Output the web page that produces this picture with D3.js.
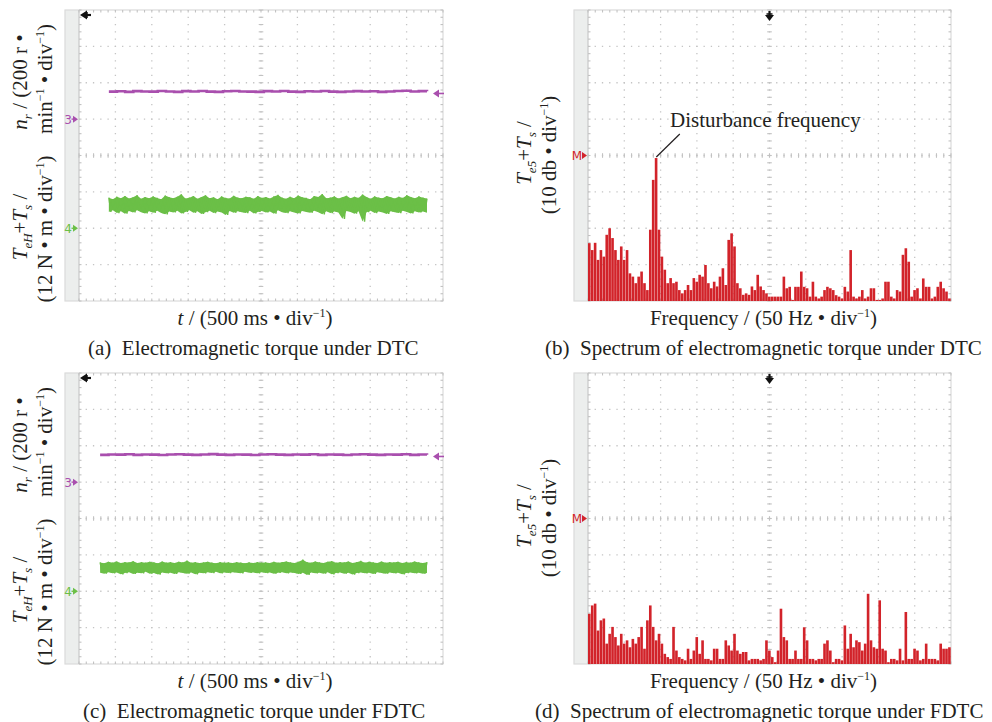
<!DOCTYPE html>
<html>
<head>
<meta charset="utf-8">
<script src="https://cdn.jsdelivr.net/npm/d3@7"></script>
<style>
  html, body { margin: 0; padding: 0; background: #fff; }
  svg { display: block; }
  text { font-family: "Liberation Serif", "Times New Roman", serif; }
</style>
</head>
<body>
<svg id="chart" width="992" height="722"></svg>
<script>
// ---------------- data ----------------
// Rotor speed n_r (r/min), channel 3, sampled evenly between the trace start and end times
const speedDTC  = [151,153,150,154,152,151,155,152,150,154,152,155,151,150,153,155,152,151,150,154,
                   152,155,151,150,153,152,155,151,150,152,154,152,153,150,152,155,156,152,154,153];
const speedFDTC = [150,152,151,153,150,152,151,149,152,153,151,150,152,154,151,150,152,151,149,152,
                   153,151,150,152,151,153,150,152,151,149,152,153,151,150,152,151,153,150,152,151];
const speedLevel = 141;            // trigger level marker on channel 3 (r/min)

// Electromagnetic torque T_eH+T_s (N·m), channel 4: upper / lower envelope per sample column
const torqueHiDTC = [10.1,9.6,10.4,9.9,10.6,9.8,10.2,10.9,9.7,10.3,9.9,10.5,10.0,9.6,10.8,10.2,9.9,10.4,11.2,9.8,
                     10.1,10.6,9.7,10.3,10.9,9.9,10.2,9.6,10.5,10.0,9.8,10.7,10.1,9.9,10.4,10.2,9.7,10.6,10.0,10.3,
                     9.8,10.5,11.0,10.1,9.7,10.4,9.9,10.8,10.2,10.0,9.6,10.6,10.3,11.3,9.9,10.1,10.5,9.8,10.2,10.7,
                     9.9,10.4,10.0,11.1,10.3,9.7,10.5,10.1,9.9,10.6,10.2,9.8,10.4,10.0,10.9,10.3,9.9,10.5,10.1,9.8];
const torqueLoDTC = [5.4,5.9,5.0,5.6,4.8,5.7,5.2,5.9,5.3,4.9,5.6,5.1,5.8,5.0,4.6,5.5,5.2,5.8,4.9,5.4,
                     5.9,5.1,5.6,4.7,5.3,5.8,5.0,5.5,5.2,4.4,5.7,5.1,5.6,5.3,5.0,5.8,4.9,5.4,5.7,5.2,
                     5.5,4.8,5.9,5.3,5.0,5.6,5.2,4.9,5.7,5.4,5.1,5.8,5.3,4.6,5.6,5.0,5.5,5.2,3.1,5.7,
                     5.4,4.8,5.6,2.2,5.3,5.8,5.0,5.5,5.2,4.7,5.6,5.3,5.0,5.8,5.4,4.9,5.6,5.2,5.5,5.1];
const torqueHiFDTC = [9.5,9.2,9.7,9.4,9.8,9.3,9.6,9.5,9.9,9.3,9.6,9.4,9.7,9.5,9.2,9.8,9.4,9.6,9.3,9.7,
                      9.5,10.1,9.4,9.6,9.3,9.5,9.7,9.4,9.2,9.6,9.4,9.5,9.3,9.6,9.4,9.2,9.5,9.3,9.6,9.4,
                      9.5,9.3,9.7,9.4,9.6,9.8,9.5,9.3,9.7,10.4,9.6,9.4,9.8,9.5,9.3,9.7,9.9,9.4,9.6,9.5,
                      9.8,9.3,9.6,10.0,9.4,9.7,9.5,9.3,9.8,9.4,9.6,9.5,9.7,9.3,9.6,9.4,9.8,9.5,9.3,9.6];
const torqueLoFDTC = [6.1,5.8,6.3,5.9,6.2,5.6,6.0,6.3,5.7,6.1,5.9,6.4,5.8,6.0,5.5,6.2,5.9,6.1,5.7,6.3,
                      6.0,5.8,6.2,5.6,6.1,5.9,6.3,6.0,6.4,5.9,6.2,6.0,6.3,6.1,5.9,6.4,6.1,6.2,5.9,6.3,
                      6.0,6.2,5.8,6.1,6.3,5.9,6.2,6.0,5.7,6.1,5.4,6.2,5.9,6.1,5.8,6.3,5.6,6.0,6.2,5.8,
                      6.1,5.5,6.0,6.2,5.9,6.1,5.7,6.3,6.0,5.8,6.2,5.9,6.1,5.6,6.0,6.2,5.9,6.1,5.8,6.0];

// Trace time spans (s)
const traceSpanDTC  = [0.41, 4.78];
const traceSpanFDTC = [0.29, 4.78];

// Torque spectra (dB), one value per 4 Hz bin starting at 0 Hz
const spectrumBinHz = 4;
const spectrumDTC = [
  -64.1,-66,-64,-68.7,-66,-67.8,-61.8,-60,-62.7,-66,-68.7,-65,-68.7,-66,-72.4,-73.3,-75.1,-73.3,-71.9,-75.1,
  -77,-60.4,-46.7,-40.7,-60.4,-67.8,-71.4,-75.1,-73.7,-75.1,-74.7,-77,-77.9,-77,-75.6,-77,-73.7,-74.7,-72.8,-73.3,
  -70.1,-75.1,-76.5,-74.7,-76,-73.3,-71,-75.6,-63.2,-61.4,-65,-75.1,-76.5,-78.3,-77.9,-78.3,-76,-77,-72.8,-76,
  -77,-77.9,-78.8,-78.8,-78.8,-78.8,-78.8,-73.3,-76.5,-76.1,-79.7,-76.1,-76.1,-71.9,-76.1,-76.5,-78.8,-74.7,-78.8,-79.3,
  -78.8,-77,-76.1,-76.5,-77,-78.4,-78.8,-79.3,-76.1,-77.4,-66,-78.8,-79.3,-78.8,-77,-79.3,-78.8,-76.5,-76.5,-79.7,
  -79.7,-79.3,-74.7,-74.7,-78.8,-79.3,-77,-77.4,-67.3,-65.5,-69.2,-78.8,-77,-76.5,-79.3,-73.8,-76.1,-76.1,-79.3,-78.8,
  -76.1,-74.7,-76.5,-77.4,-79.3];
const spectrumFDTC = [
  -66.2,-63.9,-63.4,-70.8,-68,-67.5,-74.4,-71.7,-69.8,-72.6,-74.9,-71.7,-74.4,-73.5,-75.4,-73.1,-74.4,-72.6,-69.8,-75.8,
  -68,-63.9,-69.8,-73.5,-71.7,-74.4,-77.2,-78.1,-78.6,-69.8,-76.3,-78.1,-78.6,-79,-75.8,-78.6,-76.3,-72.6,-77.2,-73.5,
  -78.6,-78.6,-79,-75.8,-75.8,-78.6,-78.6,-73.5,-74.9,-76.3,-71.7,-76.3,-77.2,-76.7,-76.7,-79,-78.6,-78.6,-78.6,-79,
  -78.6,-73.5,-76.3,-78.1,-79.5,-76.3,-64.8,-72.6,-73.5,-78.6,-78.6,-76.3,-78.6,-78.6,-69.9,-73.5,-78.6,-78.6,-79,-78.6,
  -78.6,-74.4,-73.5,-76.3,-79.5,-78.6,-78.6,-79,-69.4,-75.8,-71.7,-75.4,-73.5,-74,-76.3,-74.4,-60.7,-73.5,-75.4,-75.8,
  -62.5,-75.8,-76.3,-79.5,-78.6,-78.6,-79,-75.8,-79,-65.7,-78.6,-78.6,-75.8,-76.3,-79,-78.6,-74.4,-78.6,-78.6,-78.6,
  -79,-74.4,-75.8,-75.8,-75.4];

// ---------------- drawing ----------------
const svg = d3.select("#chart");
const COLORS = { speed: "#a94fae", torque: "#6bbf47", spectrum: "#d2232a", grid: "#c4c4c4", ink: "#231f20" };
const DIVX = 10, DIVY = 8;

function drawScreen(g, b) {
  const dx = (b.x1 - b.x0) / DIVX, dy = (b.y1 - b.y0) / DIVY;
  // side strip and outer frame
  g.append("rect").attr("x", b.x0 - 14).attr("y", b.y0).attr("width", 14).attr("height", b.y1 - b.y0)
    .attr("fill", "#eceeed");
  g.append("rect").attr("x", b.x0 - 14).attr("y", b.y0).attr("width", b.x1 - b.x0 + 14).attr("height", b.y1 - b.y0)
    .attr("fill", "none").attr("stroke", "#dadada").attr("stroke-width", 1.2);
  g.append("line").attr("x1", b.x0).attr("x2", b.x0).attr("y1", b.y0).attr("y2", b.y1)
    .attr("stroke", "#c8c8c8").attr("stroke-width", 1.2);
  // dotted division lines
  for (let i = 1; i < DIVX; i++) {
    const x = b.x0 + i * dx;
    g.append("line").attr("x1", x).attr("x2", x).attr("y1", b.y0).attr("y2", b.y1)
      .attr("stroke", COLORS.grid).attr("stroke-width", 1.3)
      .attr("stroke-dasharray", `1.3 ${dy / 5 - 1.3}`).attr("stroke-dashoffset", 0.65);
  }
  for (let j = 1; j < DIVY; j++) {
    const y = b.y0 + j * dy;
    g.append("line").attr("x1", b.x0).attr("x2", b.x1).attr("y1", y).attr("y2", y)
      .attr("stroke", COLORS.grid).attr("stroke-width", 1.3)
      .attr("stroke-dasharray", `1.3 ${dx / 5 - 1.3}`).attr("stroke-dashoffset", 0.65);
  }
  // minor ticks on the centre axes and the border
  const xc = b.x0 + dx * DIVX / 2, yc = b.y0 + dy * DIVY / 2;
  const ticks = g.append("g").attr("stroke", "#c2c2c2").attr("stroke-width", 1.1);
  for (let k = 0; k <= DIVX * 5; k++) {
    const x = b.x0 + k * dx / 5;
    ticks.append("line").attr("x1", x).attr("x2", x).attr("y1", yc - 2.3).attr("y2", yc + 2.3);
    ticks.append("line").attr("x1", x).attr("x2", x).attr("y1", b.y0).attr("y2", b.y0 + 2.5);
    ticks.append("line").attr("x1", x).attr("x2", x).attr("y1", b.y1 - 2.5).attr("y2", b.y1);
  }
  for (let k = 0; k <= DIVY * 5; k++) {
    const y = b.y0 + k * dy / 5;
    ticks.append("line").attr("y1", y).attr("y2", y).attr("x1", xc - 2.3).attr("x2", xc + 2.3);
    ticks.append("line").attr("y1", y).attr("y2", y).attr("x1", b.x0).attr("x2", b.x0 + 2.5);
    ticks.append("line").attr("y1", y).attr("y2", y).attr("x1", b.x1 - 2.5).attr("x2", b.x1);
  }
}

function channelMarker(g, b, y, label, color) {
  g.append("text").attr("x", b.x0 - 7).attr("y", y + 4.5).attr("text-anchor", "end")
    .style("font-family", "'DejaVu Sans', sans-serif").attr("font-size", 12).attr("fill", color).text(label);
  g.append("path").attr("d", `M${b.x0 - 6},${y - 3.5} L${b.x0 - 1},${y} L${b.x0 - 6},${y + 3.5} Z`).attr("fill", color);
  g.append("line").attr("x1", b.x0 - 7.5).attr("x2", b.x0 - 3).attr("y1", y).attr("y2", y)
    .attr("stroke", color).attr("stroke-width", 1.3);
}

function label(g, x, y, parts, opts = {}) {
  const t = g.append("text").attr("x", x).attr("y", y).attr("font-size", opts.size || 21)
    .attr("fill", COLORS.ink).attr("text-anchor", opts.anchor || "middle").style("white-space", "pre");
  if (opts.rotate) t.attr("transform", `rotate(-90,${x},${y})`);
  parts.forEach(p => {
    const ts = t.append("tspan").text(p.t);
    if (p.italic) ts.attr("font-style", "italic");
    if (p.size) ts.attr("font-size", p.size);
    if (p.dy) ts.attr("dy", p.dy);
  });
  return t;
}

function timePanel(b, speed, hi, lo, span, capX, caption) {
  const g = svg.append("g");
  drawScreen(g, b);
  const x = d3.scaleLinear().domain([0, 5]).range([b.x0, b.x1]);                 // 500 ms/div
  const ySpeed = d3.scaleLinear().domain([-5 * 200, 3 * 200]).range([b.y1, b.y0]); // 200 r/min/div
  const yTorque = d3.scaleLinear().domain([-2 * 12, 6 * 12]).range([b.y1, b.y0]);  // 12 N·m/div

  const tAt = (k, n) => span[0] + k * (span[1] - span[0]) / (n - 1);
  const speedPts = speed.map((v, k) => ({ t: tAt(k, speed.length), v }));
  g.append("path").datum(speedPts)
    .attr("d", d3.line().x(d => x(d.t)).y(d => ySpeed(d.v)).curve(d3.curveStepAfter))
    .attr("fill", "none").attr("stroke", COLORS.speed).attr("stroke-width", 2.6);

  // torque: envelope band plus the sample-to-sample swing inside it
  const step = (span[1] - span[0]) / (hi.length - 1);
  const cols = hi.map((v, k) => ({ t: tAt(k, hi.length), hi: v, lo: lo[k] }));
  g.append("path").datum(cols)
    .attr("d", d3.area().x(d => x(d.t)).y0(d => yTorque(d.lo)).y1(d => yTorque(d.hi)))
    .attr("fill", COLORS.torque);
  const swing = [];
  cols.forEach((d, k) => {
    swing.push({ t: d.t, v: d.hi });
    if (k < cols.length - 1) swing.push({ t: d.t + step / 2, v: d.lo });
  });
  g.append("path").datum(swing)
    .attr("d", d3.line().x(d => x(d.t)).y(d => yTorque(d.v)))
    .attr("fill", "none").attr("stroke", COLORS.torque).attr("stroke-width", 1.4).attr("stroke-linejoin", "bevel");

  // channel ground markers, trigger position and level
  channelMarker(g, b, ySpeed(0), "3", COLORS.speed);
  channelMarker(g, b, yTorque(0), "4", COLORS.torque);
  const yt = b.y0 + 5;
  g.append("path").attr("d", `M${b.x0 + 1},${yt} L${b.x0 + 8},${yt - 4.5} L${b.x0 + 8},${yt + 4.5} Z`).attr("fill", "#111");
  g.append("line").attr("x1", b.x0 + 7).attr("x2", b.x0 + 12).attr("y1", yt).attr("y2", yt).attr("stroke", "#111").attr("stroke-width", 2.2);
  g.append("line").attr("x1", b.x0 + 8).attr("x2", b.x0 + 8).attr("y1", yt - 3).attr("y2", yt + 3).attr("stroke", "#111").attr("stroke-width", 1.5);
  const yl = ySpeed(speedLevel);
  g.append("path").attr("d", `M${b.x1 - 10},${yl} L${b.x1 - 4},${yl - 4} L${b.x1 - 4},${yl + 4} Z`).attr("fill", COLORS.speed);
  g.append("line").attr("x1", b.x1 - 6).attr("x2", b.x1 + 1).attr("y1", yl).attr("y2", yl).attr("stroke", COLORS.speed).attr("stroke-width", 1.6);

  // axis titles
  const ox = b.x0 - 79, oy = b.y0 - 10;
  label(g, ox + 27, oy + 82, [{ t: "n", italic: true }, { t: "r", italic: true, size: 13, dy: 5 }, { t: " / (200 r \u2022", dy: -5 }], { rotate: true });
  label(g, ox + 52, oy + 79, [{ t: "min" }, { t: "\u22121", size: 12, dy: -8 }, { t: " \u2022 div", dy: 8 }, { t: "\u22121", size: 12, dy: -8 }, { t: ")", dy: 8 }], { rotate: true });
  label(g, ox + 27, oy + 227, [{ t: "T", italic: true }, { t: "eH", italic: true, size: 13, dy: 5 }, { t: "+", dy: -5 }, { t: "T", italic: true }, { t: "s", italic: true, size: 13, dy: 5 }, { t: " /", dy: -5 }], { rotate: true });
  label(g, ox + 52, oy + 229, [{ t: "(12 N \u2022 m \u2022 div" }, { t: "\u22121", size: 12, dy: -8 }, { t: ")", dy: 8 }], { rotate: true });
  label(g, (b.x0 + b.x1) / 2 - 6, b.y1 + 24, [{ t: "t", italic: true }, { t: " / (500 ms \u2022 div" }, { t: "\u22121", size: 12, dy: -8 }, { t: ")", dy: 8 }]);
  label(g, capX, b.y1 + 54, [{ t: caption }], { anchor: "start" });
}

function spectrumPanel(b, spec, capX, caption, annotate) {
  const g = svg.append("g");
  drawScreen(g, b);
  const x = d3.scaleLinear().domain([0, 500]).range([b.x0, b.x1]);   // 50 Hz/div
  const y = d3.scaleLinear().domain([-80, 0]).range([b.y1, b.y0]);   // 10 dB/div
  const bins = spec.map((v, i) => ({ f: i * spectrumBinHz, v }));
  const bw = x(spectrumBinHz) - x(0);
  g.append("g").selectAll("rect").data(bins).join("rect")
    .attr("x", d => x(d.f)).attr("width", bw * 0.9)
    .attr("y", d => y(d.v)).attr("height", d => y(-80) - y(d.v))
    .attr("fill", COLORS.spectrum);

  // math reference marker and trigger position
  const ym = y(-40);
  g.append("text").attr("x", b.x0 - 6).attr("y", ym + 4.5).attr("text-anchor", "end")
    .style("font-family", "'DejaVu Sans', sans-serif").attr("font-size", 12).attr("fill", COLORS.spectrum).text("M");
  g.append("path").attr("d", `M${b.x0 - 6},${ym - 3.5} L${b.x0 - 1},${ym} L${b.x0 - 6},${ym + 3.5} Z`).attr("fill", COLORS.spectrum);
  const xc = x(250);
  g.append("line").attr("x1", xc).attr("x2", xc).attr("y1", b.y0 + 1).attr("y2", b.y0 + 6).attr("stroke", "#111").attr("stroke-width", 2.2);
  g.append("line").attr("x1", xc - 3).attr("x2", xc + 3).attr("y1", b.y0 + 4).attr("y2", b.y0 + 4).attr("stroke", "#111").attr("stroke-width", 1.5);
  g.append("path").attr("d", `M${xc - 4.5},${b.y0 + 5} L${xc + 4.5},${b.y0 + 5} L${xc},${b.y0 + 11} Z`).attr("fill", "#111");

  if (annotate) {
    const peak = bins.reduce((a, d) => d.v > a.v ? d : a);
    g.append("line").attr("x1", x(peak.f) + 1.5).attr("y1", y(peak.v) - 1)
      .attr("x2", x(peak.f) + 25).attr("y2", b.y0 + 124).attr("stroke", COLORS.ink).attr("stroke-width", 1.2);
    label(g, b.x0 + 82, b.y0 + 117, [{ t: "Disturbance frequency" }], { anchor: "start" });
  }

  const ox = b.x0 - 588, oy = b.y0 - 10;
  label(g, ox + 531, oy + 153, [{ t: "T", italic: true }, { t: "e5", italic: true, size: 13, dy: 5 }, { t: "+", dy: -5 }, { t: "T", italic: true }, { t: "s", italic: true, size: 13, dy: 5 }, { t: " /", dy: -5 }], { rotate: true });
  label(g, ox + 556, oy + 155, [{ t: "(10 db \u2022 div" }, { t: "\u22121", size: 12, dy: -8 }, { t: ")", dy: 8 }], { rotate: true });
  label(g, (b.x0 + b.x1) / 2 - 6, b.y1 + 24, [{ t: "Frequency / (50 Hz \u2022 div" }, { t: "\u22121", size: 12, dy: -8 }, { t: ")", dy: 8 }]);
  label(g, capX, b.y1 + 54, [{ t: caption }], { anchor: "start" });
}

timePanel({ x0: 79, x1: 443, y0: 10, y1: 301 }, speedDTC, torqueHiDTC, torqueLoDTC, traceSpanDTC,
  88, "(a)  Electromagnetic torque under DTC");
spectrumPanel({ x0: 588, x1: 951, y0: 10, y1: 301 }, spectrumDTC,
  545, "(b)  Spectrum of electromagnetic torque under DTC", true);
timePanel({ x0: 79, x1: 443, y0: 373, y1: 664 }, speedFDTC, torqueHiFDTC, torqueLoFDTC, traceSpanFDTC,
  83, "(c)  Electromagnetic torque under FDTC");
spectrumPanel({ x0: 588, x1: 951, y0: 373, y1: 664 }, spectrumFDTC,
  535, "(d)  Spectrum of electromagnetic torque under FDTC", false);
</script>
</body>
</html>
